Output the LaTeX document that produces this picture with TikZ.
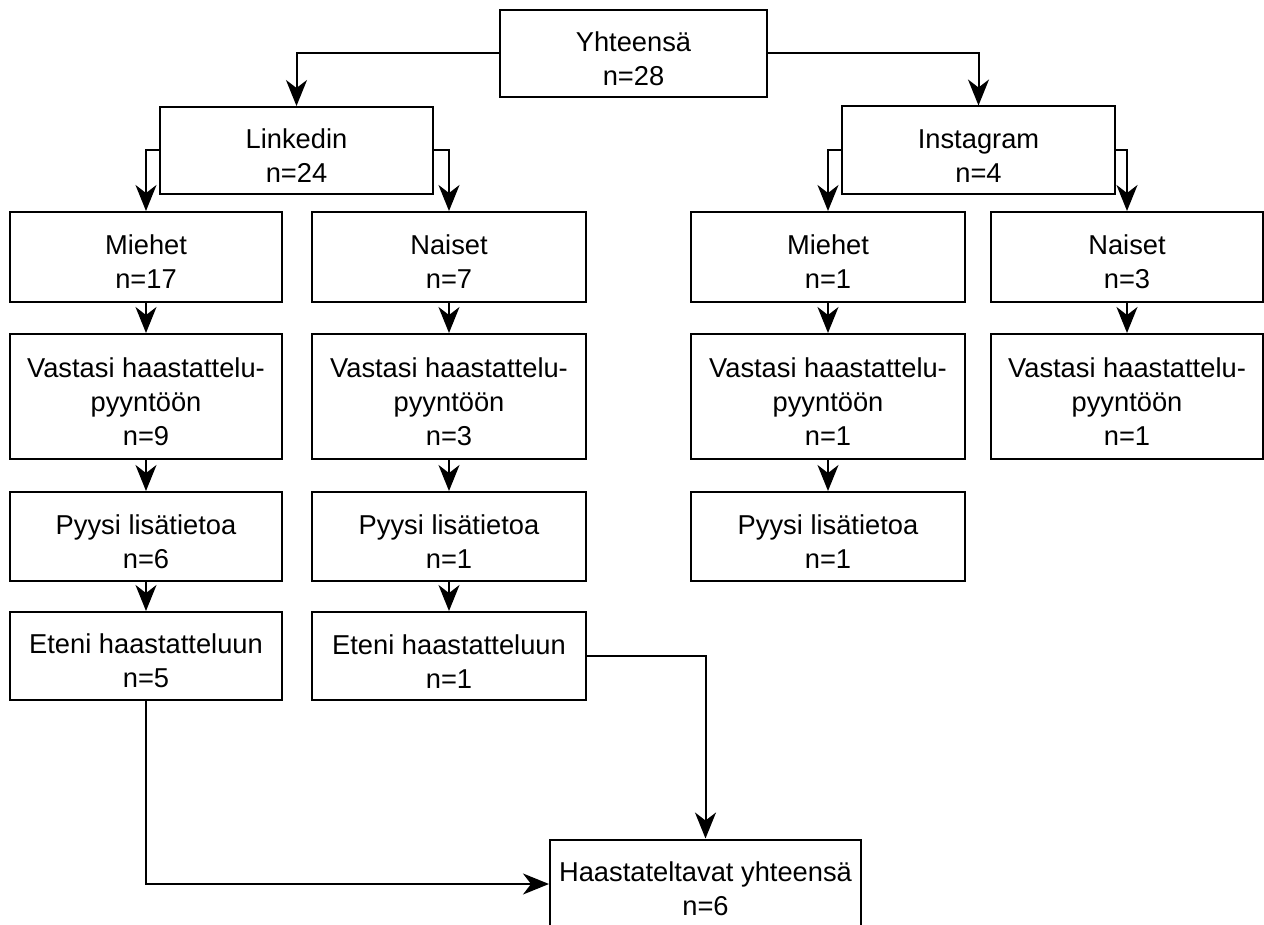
\documentclass[tikz,border=0pt]{standalone}
\usepackage{fontspec}
\setmainfont{Liberation Sans}
\usetikzlibrary{arrows.meta}
\newcommand\mytopstrut{\rule{0pt}{30pt}}
\begin{document}
\begin{tikzpicture}[x=1pt,y=-1pt,
  box/.style={draw=black, line width=2pt, fill=white, align=center, inner sep=0pt,
    font=\fontsize{27.3}{34}\selectfont, minimum width=273pt, minimum height=#1},
  box/.default=88pt,
  conn/.style={draw=black, line width=2pt, -{Stealth[length=26pt,width=21pt,inset=8pt]}}]
\useasboundingbox (0,0) rectangle (1264,925);
\clip (0,0) rectangle (1264,925);
% top levels
\node[box=87pt, minimum width=267pt] (tot) at (633.5,53.5) {\mytopstrut Yhteensä\\n=28};
\node[box=87pt] (li) at (296.5,150.5) {\mytopstrut Linkedin\\n=24};
\node[box=88pt] (ig) at (978.5,150.5) {\mytopstrut Instagram\\n=4};
% row 1
\node[box=90pt, minimum width=272pt] (lm1) at (146,257) {\mytopstrut Miehet\\n=17};
\node[box=90pt, minimum width=274pt] (ln1) at (449,257) {\mytopstrut Naiset\\n=7};
\node[box=90pt, minimum width=274pt] (im1) at (828,257) {\mytopstrut Miehet\\n=1};
\node[box=90pt, minimum width=272pt] (in1) at (1127,257) {\mytopstrut Naiset\\n=3};
% row 2
\node[box=125pt, minimum width=272pt] (lm2) at (146,396.5) {\mytopstrut Vastasi haastattelu-\\pyyntöön\\n=9};
\node[box=125pt, minimum width=274pt] (ln2) at (449,396.5) {\mytopstrut Vastasi haastattelu-\\pyyntöön\\n=3};
\node[box=125pt, minimum width=274pt] (im2) at (828,396.5) {\mytopstrut Vastasi haastattelu-\\pyyntöön\\n=1};
\node[box=125pt, minimum width=272pt] (in2) at (1127,396.5) {\mytopstrut Vastasi haastattelu-\\pyyntöön\\n=1};
% row 3
\node[box=89pt, minimum width=272pt] (lm3) at (146,536.5) {\mytopstrut Pyysi lisätietoa\\n=6};
\node[box=89pt, minimum width=274pt] (ln3) at (449,536.5) {\mytopstrut Pyysi lisätietoa\\n=1};
\node[box=89pt, minimum width=274pt] (im3) at (828,536.5) {\mytopstrut Pyysi lisätietoa\\n=1};
% row 4
\node[box=88pt, minimum width=272pt] (lm4) at (146,656) {\mytopstrut Eteni haastatteluun\\n=5};
\node[box=88pt, minimum width=274pt] (ln4) at (449,656) {\mytopstrut Eteni haastatteluun\\n=1};
% bottom
\node[box=89pt, minimum width=311pt] (bot) at (705.5,884) {\mytopstrut Haastateltavat yhteensä\\n=6};
% connectors
\draw[conn] (tot.west) -| (li.north);
\draw[conn] (tot.east) -| (ig.north);
\draw[conn] (li.west) -| (lm1.north);
\draw[conn] (li.east) -| (ln1.north);
\draw[conn] (ig.west) -| (im1.north);
\draw[conn] (ig.east) -| (in1.north);
\draw[conn] (lm1) -- (lm2);
\draw[conn] (lm2) -- (lm3);
\draw[conn] (lm3) -- (lm4);
\draw[conn] (ln1) -- (ln2);
\draw[conn] (ln2) -- (ln3);
\draw[conn] (ln3) -- (ln4);
\draw[conn] (im1) -- (im2);
\draw[conn] (im2) -- (im3);
\draw[conn] (in1) -- (in2);
\draw[conn] (lm4.south) |- (bot.west);
\draw[conn] (ln4.east) -| (bot.north);
\end{tikzpicture}
\end{document}
